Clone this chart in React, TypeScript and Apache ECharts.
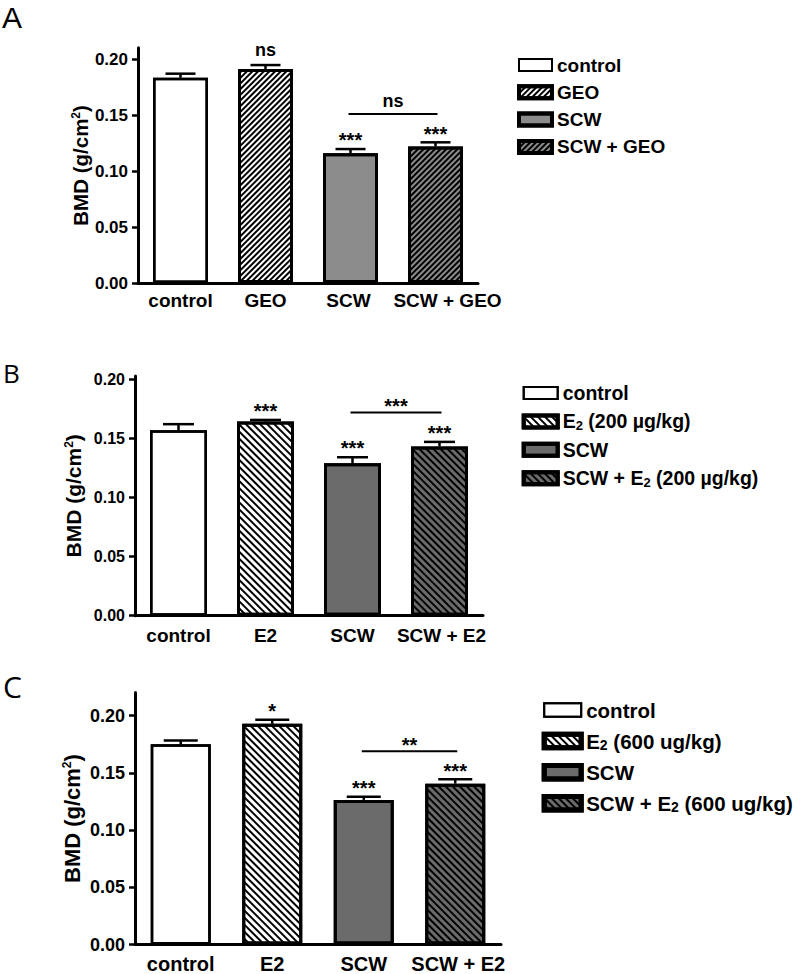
import React, { useEffect, useRef } from 'react';
import * as echarts from 'echarts';

const FONT = '"Liberation Sans", Arial, Helvetica, sans-serif';
const LETTER_FONT = '"Open Sans", "Noto Sans", sans-serif';
const LETTER_FONT_TOP = '"Liberation Sans", Arial, sans-serif';

// ---------- data ----------
const categoriesA = ['control', 'GEO', 'SCW', 'SCW + GEO'];
const categoriesB = ['control', 'E2', 'SCW', 'SCW + E2'];
const categoriesC = ['control', 'E2', 'SCW', 'SCW + E2'];

const legendLabelsA = ['control', 'GEO', 'SCW', 'SCW + GEO'];
const legendLabelsB = ['control', 'E{sub|2} (200 µg/kg)', 'SCW', 'SCW + E{sub|2} (200 µg/kg)'];
const legendLabelsC = ['control', 'E{sub|2} (600 ug/kg)', 'SCW', 'SCW + E{sub|2} (600 ug/kg)'];

const valuesA = [0.1832, 0.191, 0.1159, 0.1219];
const errorsA = [0.0037, 0.0036, 0.0037, 0.0037];
const marksA = ['', 'ns', '***', '***'];
const bracketA = { from: 2, to: 3, y: 0.1509, text: 'ns' };

const valuesB = [0.157, 0.1645, 0.1292, 0.1434];
const errorsB = [0.0052, 0.0013, 0.005, 0.0038];
const marksB = ['', '***', '***', '***'];
const bracketB = { from: 2, to: 3, y: 0.172, text: '***' };

const valuesC = [0.1748, 0.1927, 0.1263, 0.1405];
const errorsC = [0.0033, 0.0036, 0.0027, 0.0038];
const marksC = ['', '*', '***', '***'];
const bracketC = { from: 2, to: 3, y: 0.1688, text: '**' };

const yTicks = [0, 0.05, 0.1, 0.15, 0.2];
const yAxisTitle = 'BMD (g/cm{sup|2})';
const panelLetters = ['A', 'B', 'C'];

// ---------- layout / style ----------
const panels = [
  {
    id: 'A', cats: categoriesA, values: valuesA, errors: errorsA, marks: marksA, bracket: bracketA,
    legend: legendLabelsA, max: 0.21, labelShift: [0, 0, -4, 24],
    grid: { left: 138, top: 47.8, width: 340, height: 235.2 },
    barWidth: 55, cap: 30, fills: ['#ffffff', '#ffffff', '#8c8c8c', '#8c8c8c'], rot: -Math.PI / 4, dash: [2, 2],
    tickFont: 17, catFont: 19, catMargin: 7.5, nameFont: 20.5, nameGap: 47.5,
    legendLeft: 517, legendTop: 55, legendW: 33, legendH: 12, legendBW: 4, legendFont: 19, legendLH: 20, legendGap: 7.3,
    letter: { x: 2, y: 17.5, size: 30, font: LETTER_FONT_TOP },
  },
  {
    id: 'B', cats: categoriesB, values: valuesB, errors: errorsB, marks: marksB, bracket: bracketB,
    legend: legendLabelsB, max: 0.203, labelShift: [0, 0, 0, 4],
    grid: { left: 135, top: 376, width: 348, height: 239.7 },
    barWidth: 57, cap: 31, fills: ['#ffffff', '#ffffff', '#6b6b6b', '#6b6b6b'], rot: Math.PI / 4, dash: [2, 3],
    tickFont: 16, catFont: 19, catMargin: 10, nameFont: 21, nameGap: 51.5,
    legendLeft: 521.7, legendTop: 382.5, legendW: 34, legendH: 12, legendBW: 4, legendFont: 19.5, legendLH: 21, legendGap: 7.4,
    letter: { x: 3, y: 372.5, size: 26, font: LETTER_FONT },
  },
  {
    id: 'C', cats: categoriesC, values: valuesC, errors: errorsC, marks: marksC, bracket: bracketC,
    legend: legendLabelsC, max: 0.22, labelShift: [0, 0, 0, 6],
    grid: { left: 135, top: 692.6, width: 366, height: 254.1 },
    barWidth: 60, cap: 34, fills: ['#ffffff', '#ffffff', '#6b6b6b', '#6b6b6b'], rot: Math.PI / 4, dash: [2, 3],
    tickFont: 18, catFont: 20, catMargin: 9.5, nameFont: 22, nameGap: 52,
    legendLeft: 541.7, legendTop: 699, legendW: 37, legendH: 13.5, legendBW: 5, legendFont: 20.5, legendLH: 22, legendGap: 9.1,
    letter: { x: 3, y: 686, size: 30, font: LETTER_FONT },
  },
];

function buildOption() {
  const grid: any[] = [];
  const xAxis: any[] = [];
  const yAxis: any[] = [];
  const series: any[] = [];
  const legend: any[] = [];
  const graphic: any[] = [];

  panels.forEach((p, pi) => {
    grid.push({ ...p.grid });
    xAxis.push({
      type: 'category', gridIndex: pi,
      data: p.cats.map((c, i) => {
        const s = p.labelShift[i];
        return s
          ? { value: c, textStyle: { padding: s > 0 ? [0, 0, 0, s] : [0, -s, 0, 0] } }
          : c;
      }),
      axisLine: { lineStyle: { color: '#000', width: 3 } },
      axisTick: { alignWithLabel: true, length: 8, lineStyle: { color: '#000', width: 3 } },
      axisLabel: { interval: 0, color: '#000', fontFamily: FONT, fontWeight: 'bold', fontSize: p.catFont, margin: p.catMargin },
    });
    yAxis.push({
      type: 'value', gridIndex: pi, min: 0, max: p.max,
      axisLine: { show: true, lineStyle: { color: '#000', width: 3 } },
      axisTick: { show: true, length: 6, lineStyle: { color: '#000', width: 2.5 }, customValues: yTicks },
      axisLabel: {
        customValues: yTicks, formatter: (v: number) => v.toFixed(2), margin: 10,
        color: '#000', fontFamily: FONT, fontWeight: 'bold', fontSize: p.tickFont,
      },
      splitLine: { show: false },
      name: yAxisTitle, nameLocation: 'middle', nameGap: p.nameGap,
      nameTextStyle: {
        color: '#000', fontFamily: FONT, fontWeight: 'bold', fontSize: p.nameFont, lineHeight: p.nameFont,
        rich: { sup: { color: '#000', fontFamily: FONT, fontWeight: 'bold', fontSize: 12, lineHeight: 12, verticalAlign: 'top' } },
      },
    });

    p.cats.forEach((_, i) => {
      const hatched = i === 1 || i === 3;
      series.push({
        type: 'bar', name: `${p.id}|${i}`, xAxisIndex: pi, yAxisIndex: pi, stack: `stk${p.id}`,
        barWidth: p.barWidth,
        data: p.values.map((v, j) => (j === i ? v : '-')),
        itemStyle: {
          color: p.fills[i], borderColor: '#000', borderWidth: i === 0 ? 2.5 : 3,
          decal: hatched
            ? { symbol: 'rect', symbolSize: 1, dashArrayX: [1, 0], dashArrayY: p.dash, rotation: p.rot, color: '#000' }
            : { symbol: 'rect', color: 'rgba(0,0,0,0)' },
        },
        emphasis: { disabled: true },
        z: 2,
      });
    });

    // error bars + significance marks
    series.push({
      type: 'custom', xAxisIndex: pi, yAxisIndex: pi, z: 5, silent: true,
      data: p.values.map((v, i) => [i, v + p.errors[i], v]),
      renderItem: (params: any, api: any) => {
        const i = params.dataIndex;
        const top = api.coord([api.value(0), api.value(1)]);
        const base = api.coord([api.value(0), api.value(2)]);
        const children: any[] = [
          { type: 'line', shape: { x1: top[0], y1: base[1], x2: top[0], y2: top[1] }, style: { stroke: '#000', lineWidth: 2.5 } },
          { type: 'line', shape: { x1: top[0] - p.cap / 2, y1: top[1], x2: top[0] + p.cap / 2, y2: top[1] }, style: { stroke: '#000', lineWidth: 2.5 } },
        ];
        const m = p.marks[i];
        if (m) {
          const isNs = m === 'ns';
          children.push({
            type: 'text',
            style: {
              text: m, x: top[0], y: top[1] - (isNs ? 14.8 : 8.75), align: 'center', verticalAlign: 'middle',
              fontFamily: FONT, fontWeight: 'bold', fontSize: isNs ? 18 : 20, fill: '#000',
            },
          });
        }
        return { type: 'group', children };
      },
    });

    // comparison bracket
    series.push({
      type: 'custom', xAxisIndex: pi, yAxisIndex: pi, z: 5, silent: true,
      data: [[p.bracket.from, p.bracket.y]],
      renderItem: (params: any, api: any) => {
        const a = api.coord([p.bracket.from, p.bracket.y]);
        const b = api.coord([p.bracket.to, p.bracket.y]);
        const isNs = p.bracket.text === 'ns';
        return {
          type: 'group',
          children: [
            { type: 'line', shape: { x1: a[0] - 2, y1: a[1], x2: b[0] + 2, y2: b[1] }, style: { stroke: '#000', lineWidth: 2 } },
            {
              type: 'text',
              style: {
                text: p.bracket.text, x: (a[0] + b[0]) / 2, y: a[1] - (isNs ? 12.5 : 6.5), align: 'center', verticalAlign: 'middle',
                fontFamily: FONT, fontWeight: 'bold', fontSize: isNs ? 18 : 20, fill: '#000',
              },
            },
          ],
        };
      },
    });

    legend.push({
      orient: 'vertical', left: p.legendLeft, top: p.legendTop, icon: 'rect',
      itemWidth: p.legendW, itemHeight: p.legendH, itemGap: p.legendGap, selectedMode: false, padding: 0,
      data: p.cats.map((_, i) => ({
        name: `${p.id}|${i}`,
        itemStyle: { borderColor: '#000', borderWidth: i === 0 ? 2 : p.legendBW },
      })),
      formatter: (name: string) => p.legend[Number(name.split('|')[1])],
      textStyle: {
        color: '#000', fontFamily: FONT, fontWeight: 'bold', fontSize: p.legendFont, lineHeight: p.legendLH,
        rich: {
          sub: { color: '#000', fontFamily: FONT, fontWeight: 'bold', fontSize: Math.round(p.legendFont * 0.66), lineHeight: 8, verticalAlign: 'bottom' },
        },
      },
    });

    graphic.push({
      type: 'text', x: p.letter.x, y: p.letter.y,
      style: {
        text: panelLetters[pi], fontFamily: p.letter.font, fontSize: p.letter.size, lineHeight: p.letter.size - 2,
        fill: '#000', align: 'left', verticalAlign: 'middle',
      },
    });
  });

  return {
    animation: false,
    backgroundColor: '#ffffff',
    aria: { enabled: true, label: { enabled: false }, decal: { show: true } },
    tooltip: { show: false },
    grid, xAxis, yAxis, series, legend, graphic,
  };
}

export default function App() {
  const ref = useRef<HTMLDivElement>(null);
  useEffect(() => {
    if (!ref.current) return;
    const chart = echarts.init(ref.current, undefined, { renderer: 'svg' });
    chart.setOption(buildOption() as any);
    return () => chart.dispose();
  }, []);
  return <div ref={ref} style={{ position: 'absolute', left: 0, top: 0, width: 800, height: 974 }} />;
}
